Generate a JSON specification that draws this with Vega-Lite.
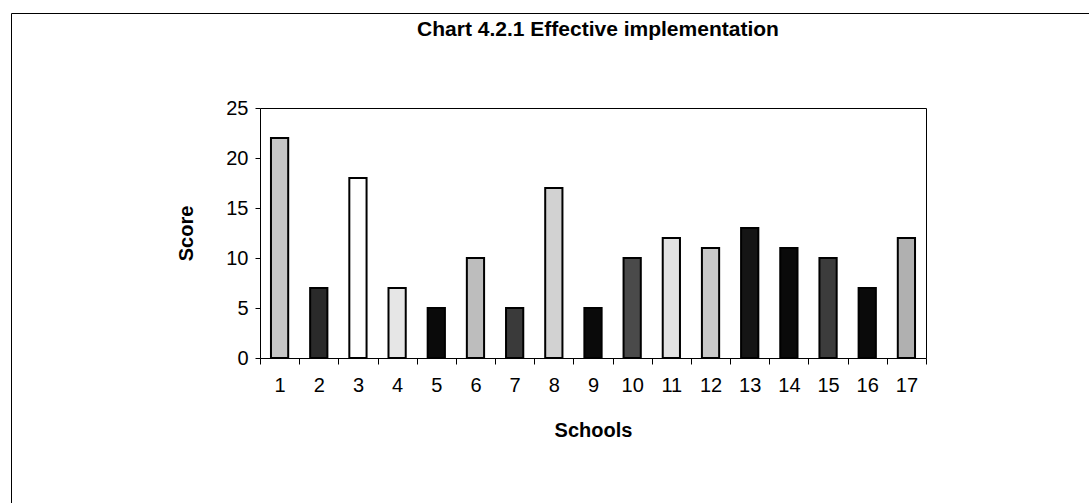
{
  "$schema": "https://vega.github.io/schema/vega-lite/v6.json",
  "width": 1100,
  "height": 500,
  "autosize": {"type": "none"},
  "padding": {"left": 11, "top": 13, "right": 0, "bottom": 0},
  "background": "white",
  "title": {
    "text": "Chart 4.2.1 Effective implementation",
    "anchor": "middle",
    "frame": "group",
    "dx": 37,
    "offset": -44,
    "baseline": "alphabetic",
    "fontSize": 21,
    "fontWeight": "bold",
    "font": "Liberation Sans",
    "color": "black"
  },
  "config": {
    "view": {"stroke": "black", "strokeWidth": 1},
    "axis": {
      "grid": false,
      "labelFont": "Liberation Sans",
      "labelFontSize": 20,
      "labelColor": "black",
      "titleFont": "Liberation Sans",
      "titleFontSize": 20,
      "titleFontWeight": "bold",
      "titleColor": "black",
      "domainColor": "black",
      "domainWidth": 1,
      "tickColor": "black",
      "tickWidth": 1
    }
  },
  "data": {
    "values": [
      {"School": 1, "Score": 22},
      {"School": 2, "Score": 7},
      {"School": 3, "Score": 18},
      {"School": 4, "Score": 7},
      {"School": 5, "Score": 5},
      {"School": 6, "Score": 10},
      {"School": 7, "Score": 5},
      {"School": 8, "Score": 17},
      {"School": 9, "Score": 5},
      {"School": 10, "Score": 10},
      {"School": 11, "Score": 12},
      {"School": 12, "Score": 11},
      {"School": 13, "Score": 13},
      {"School": 14, "Score": 11},
      {"School": 15, "Score": 10},
      {"School": 16, "Score": 7},
      {"School": 17, "Score": 12}
    ]
  },
  "layer": [
    {
      "mark": {"type": "bar", "width": {"band": 0.44}, "stroke": "black", "strokeWidth": 2},
      "encoding": {
        "x": {
          "field": "School",
          "type": "ordinal",
          "scale": {"range": [249, 915], "paddingInner": 0, "paddingOuter": 0},
          "axis": {
            "orient": "bottom",
            "offset": -155,
            "title": "Schools",
            "labelAngle": 0,
            "tickBand": "extent",
            "tickSize": 6,
            "labelPadding": 11,
            "titlePadding": 25
          }
        },
        "y": {
          "field": "Score",
          "type": "quantitative",
          "scale": {"domain": [0, 25], "range": [345, 95], "nice": false, "zero": true},
          "axis": {
            "orient": "left",
            "offset": -249,
            "title": "Score",
            "values": [0, 5, 10, 15, 20, 25],
            "tickSize": 5,
            "labelPadding": 7,
            "titlePadding": 29
          }
        },
        "color": {
          "field": "School",
          "type": "nominal",
          "legend": null,
          "scale": {
            "domain": [1, 2, 3, 4, 5, 6, 7, 8, 9, 10, 11, 12, 13, 14, 15, 16, 17],
            "range": ["#c6c6c6", "#2a2a2a", "#ffffff", "#e6e6e6", "#0a0a0a", "#bdbdbd", "#3a3a3a", "#d2d2d2", "#0a0a0a", "#4a4a4a", "#e2e2e2", "#c8c8c8", "#151515", "#0a0a0a", "#3c3c3c", "#0a0a0a", "#b0b0b0"]
          }
        }
      }
    },
    {
      "mark": {"type": "bar", "width": {"band": 0.44}, "fillOpacity": 0, "strokeOpacity": 0},
      "encoding": {
        "x": {
          "field": "School",
          "type": "ordinal",
          "axis": {"orient": "top", "offset": -95, "labels": false, "ticks": false, "title": null, "domain": true}
        },
        "y": {
          "field": "Score",
          "type": "quantitative",
          "axis": {"orient": "right", "offset": -185, "labels": false, "ticks": false, "title": null, "domain": true}
        }
      }
    }
  ],
  "resolve": {"axis": {"x": "independent", "y": "independent"}}
}
